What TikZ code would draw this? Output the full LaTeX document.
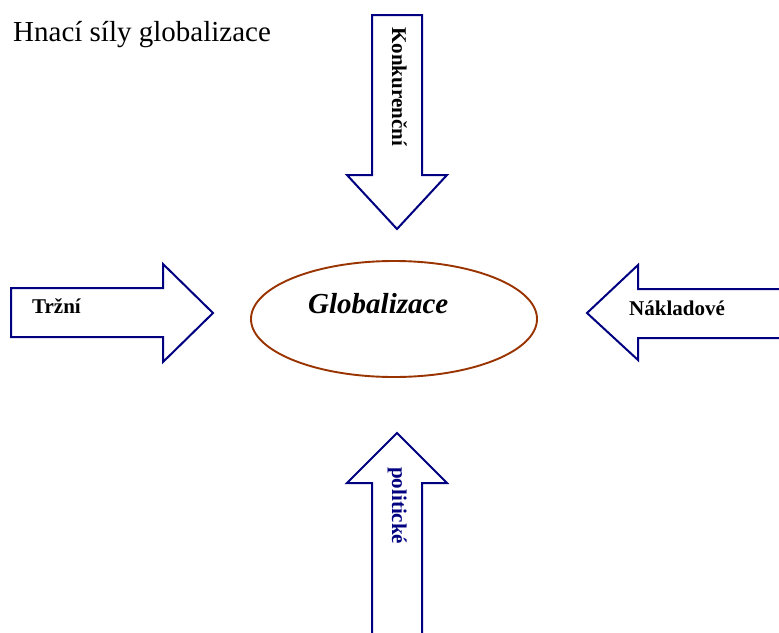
\documentclass[tikz,border=0pt]{standalone}
\usepackage{fontspec}
\setmainfont{Liberation Serif}
\usetikzlibrary{shapes.geometric}
\definecolor{arrowblue}{RGB}{0,0,128}
\definecolor{ringbrown}{RGB}{153,51,0}
\begin{document}
\begin{tikzpicture}[x=1pt,y=-1pt,
  blockarrow/.style={draw=arrowblue,line width=2pt,fill=white,line join=miter},
  forcelabel/.style={inner sep=0pt,font=\fontsize{21}{24}\selectfont\bfseries},
  vlabel/.style={forcelabel,rotate=-90,anchor=base west}]
  \useasboundingbox (0,0) rectangle (779,632);

  % title
  \node[anchor=base west,inner sep=0pt,font=\fontsize{29}{32}\selectfont] (title) at (13,41) {Hnací síly globalizace};

  % central ellipse
  \node[draw=ringbrown,line width=1.9pt,ellipse,minimum width=286pt,minimum height=116pt,inner sep=0pt] (glob) at (394,319) {};
  \node[anchor=base west,inner sep=0pt,font=\fontsize{29}{32}\selectfont\bfseries\itshape] (globtext) at (308,313) {Globalizace};

  % arrow from above
  \draw[blockarrow] (372,15) -- (422,15) -- (422,175) -- (447,175) -- (397,229) -- (347,175) -- (372,175) -- cycle;
  \node[vlabel] (konk) at (392,27) {Konkurenční};

  % arrow from the left
  \draw[blockarrow] (11,288) -- (163,288) -- (163,264) -- (213,313) -- (163,362) -- (163,337) -- (11,337) -- cycle;
  \node[forcelabel,anchor=base west] (trzni) at (32,313) {Tržní};

  % arrow from the right, shaft running off the edge
  \draw[blockarrow] (790,289) -- (638,289) -- (638,265) -- (587,313) -- (638,360) -- (638,338) -- (790,338);
  \node[forcelabel,anchor=base west] (naklad) at (629,315) {Nákladové};

  % arrow from below, shaft running off the edge
  \draw[blockarrow] (372,645) -- (372,483) -- (347,483) -- (397,433) -- (447,483) -- (422,483) -- (422,645);
  \node[vlabel,text=arrowblue] (polit) at (392,467) {politické};
\end{tikzpicture}
\end{document}
